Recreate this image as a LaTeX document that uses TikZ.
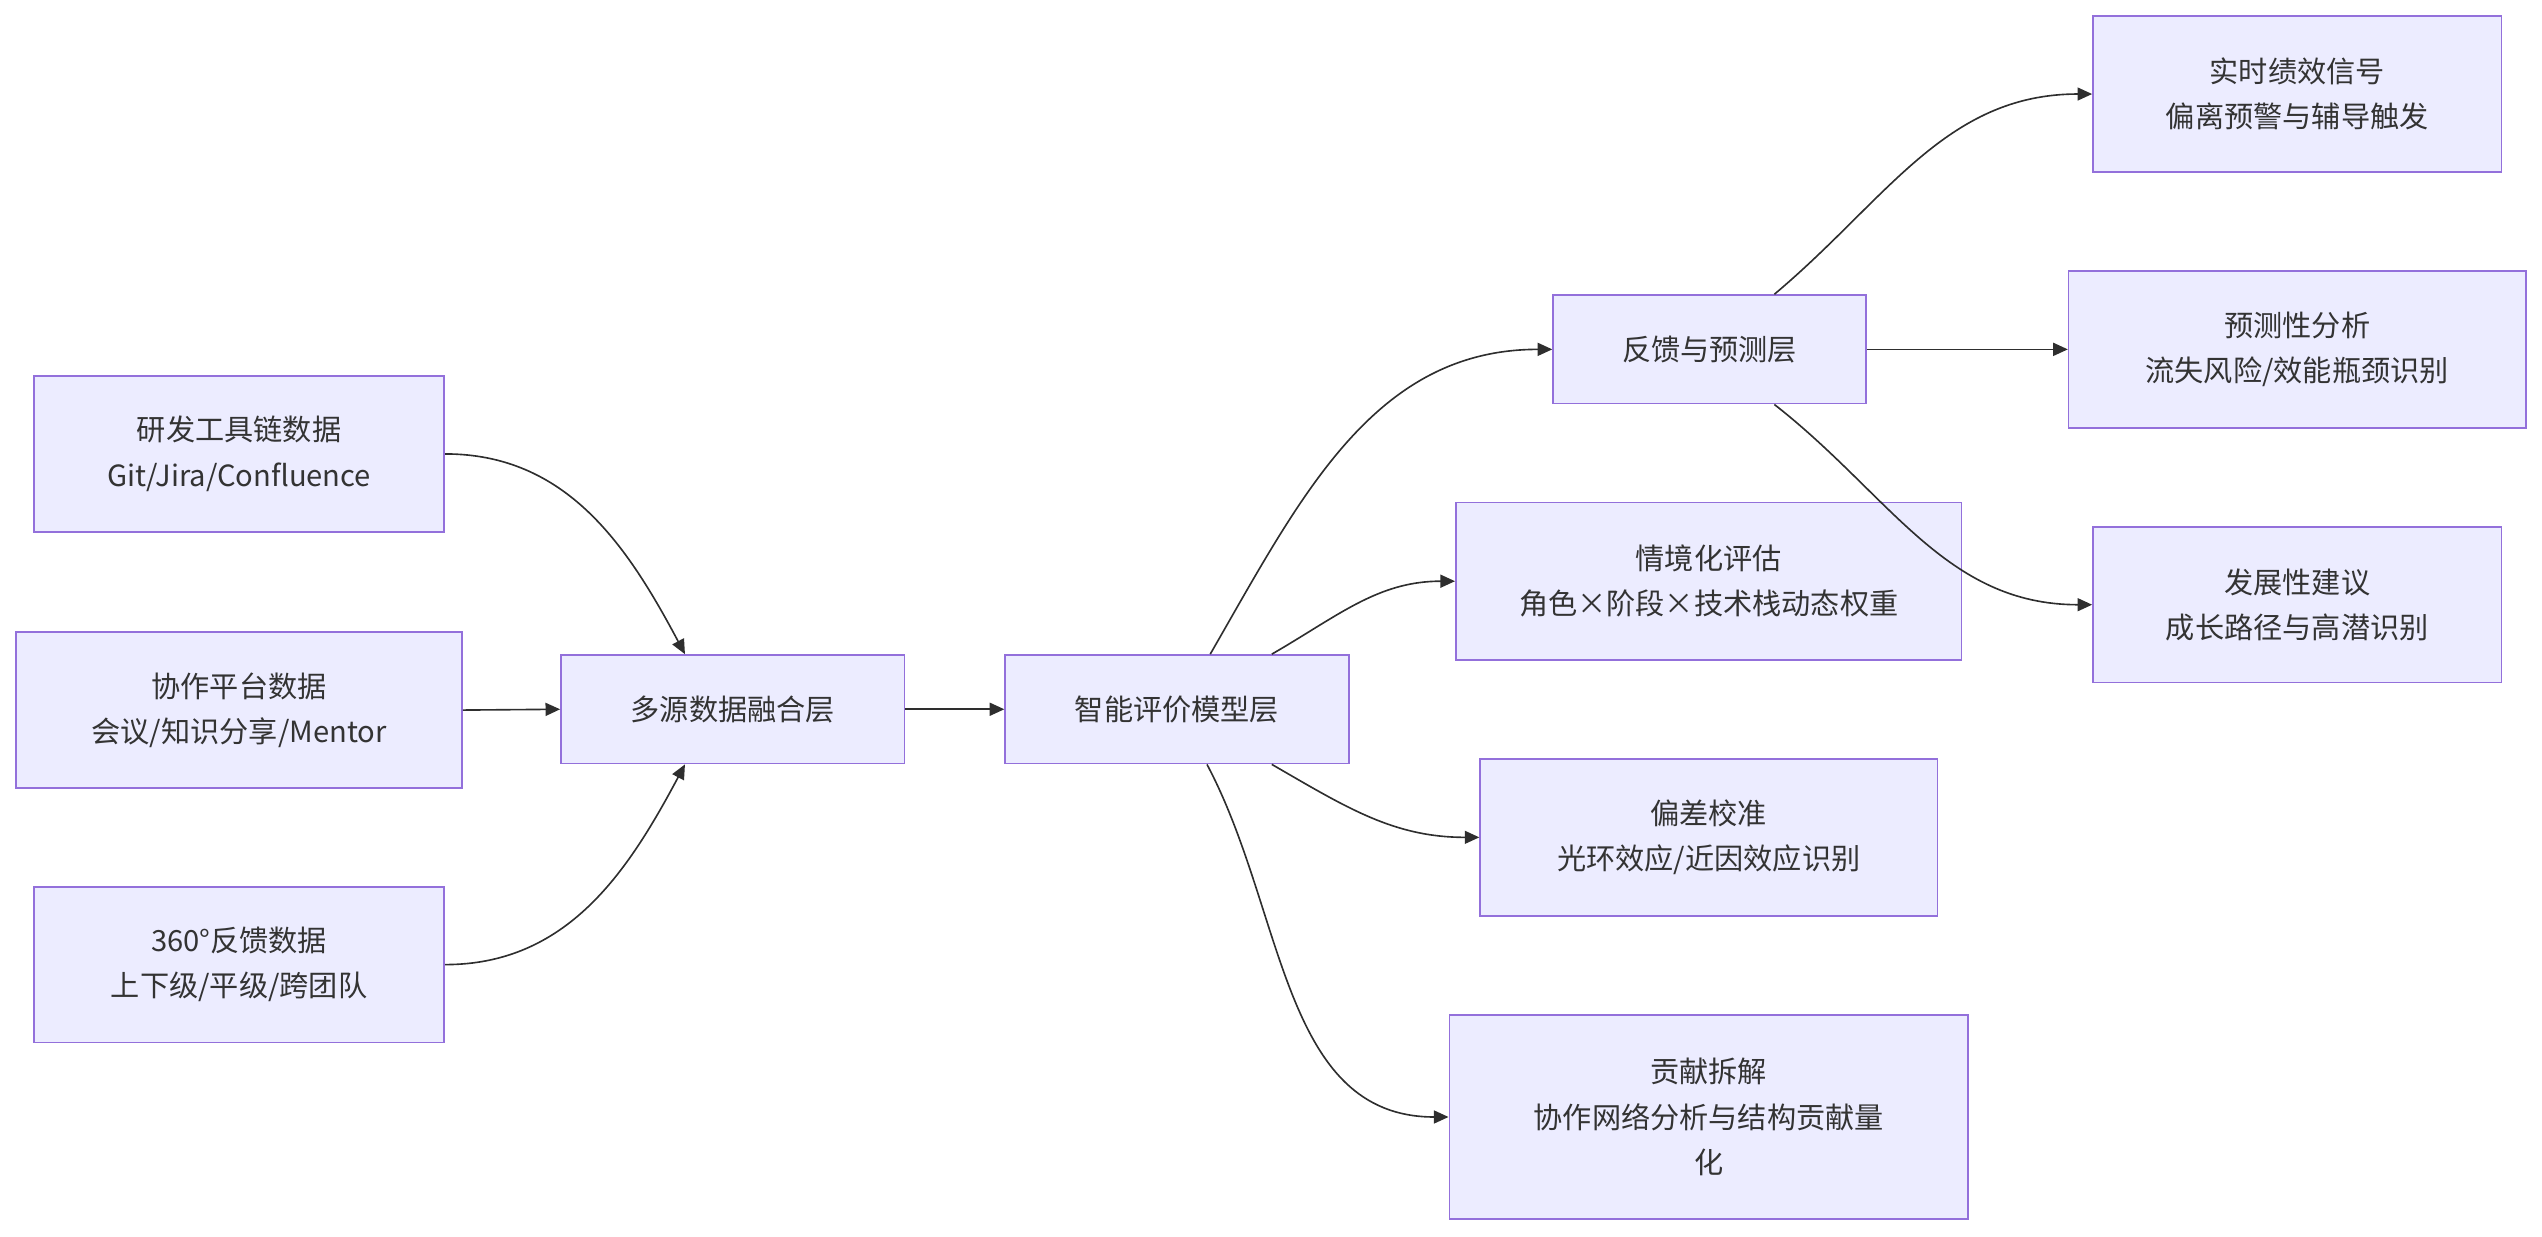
\documentclass[tikz,border=0pt]{standalone}
\usepackage{fontspec}
\setmainfont{Noto Sans CJK SC}
\usetikzlibrary{calc,arrows.meta}
\definecolor{boxfill}{HTML}{ECECFF}
\definecolor{boxline}{HTML}{9370DB}
\definecolor{txt}{HTML}{333333}
\begin{document}
\begin{tikzpicture}[x=1pt,y=-1pt,
  box/.style={draw=boxline,fill=boxfill,line width=1pt,text=txt,align=center,inner sep=0pt,
    font=\fontsize{18}{28}\selectfont},
  arr/.style={draw=txt!90!black,line width=1pt,-{Triangle[length=9pt,width=8pt]}}]
\useasboundingbox (0,0) rectangle (1568,763);
\newcommand\bx[6]{\node[box,minimum width=#4-#2,minimum height=#5-#3] (#1) at ({(#2+#4)/2},{(#3+#5)/2}) {#6};}
\bx{A}{21}{232}{274}{328}{研发工具链数据\\Git/Jira/Confluence}
\bx{B}{10}{390}{285}{486}{协作平台数据\\会议/知识分享/Mentor}
\bx{C}{21}{547}{274}{643}{360°反馈数据\\上下级/平级/跨团队}
\bx{D}{346}{404}{558}{471}{多源数据融合层}
\bx{E}{620}{404}{832}{471}{智能评价模型层}
\bx{F}{958}{182}{1151}{249}{反馈与预测层}
\bx{G}{898}{310}{1210}{407}{情境化评估\\角色×阶段×技术栈动态权重}
\bx{H}{913}{468}{1195}{565}{偏差校准\\光环效应/近因效应识别}
\bx{I}{894}{626}{1214}{752}{贡献拆解\\协作网络分析与结构贡献量\\化}
\bx{J}{1291}{10}{1543}{106}{实时绩效信号\\偏离预警与辅导触发}
\bx{K}{1276}{167}{1558}{264}{预测性分析\\流失风险/效能瓶颈识别}
\bx{L}{1291}{325}{1543}{421}{发展性建议\\成长路径与高潜识别}
\draw[arr] (A.east) to[out=0,in=118] ($(D.north west)+(77,0)$);
\draw[arr] (B.east) -- (D.west);
\draw[arr] (C.east) to[out=0,in=242] ($(D.south west)+(77,0)$);
\draw[arr] (D.east) -- (E.west);
\draw[arr] ($(E.north west)+(127,0)$) to[out=60,in=180] (F.west);
\draw[arr] ($(E.north west)+(165,0)$) to[out=30,in=180] (G.west);
\draw[arr] ($(E.south west)+(165,0)$) to[out=-30,in=180] (H.west);
\draw[arr] ($(E.south west)+(125,0)$) to[out=-62,in=180] (I.west);
\draw[arr] ($(F.north west)+(137,0)$) to[out=40,in=180] (J.west);
\draw[arr] (F.east) -- (K.west);
\draw[arr] ($(F.south west)+(137,0)$) to[out=-38,in=180] (L.west);
\end{tikzpicture}
\end{document}
